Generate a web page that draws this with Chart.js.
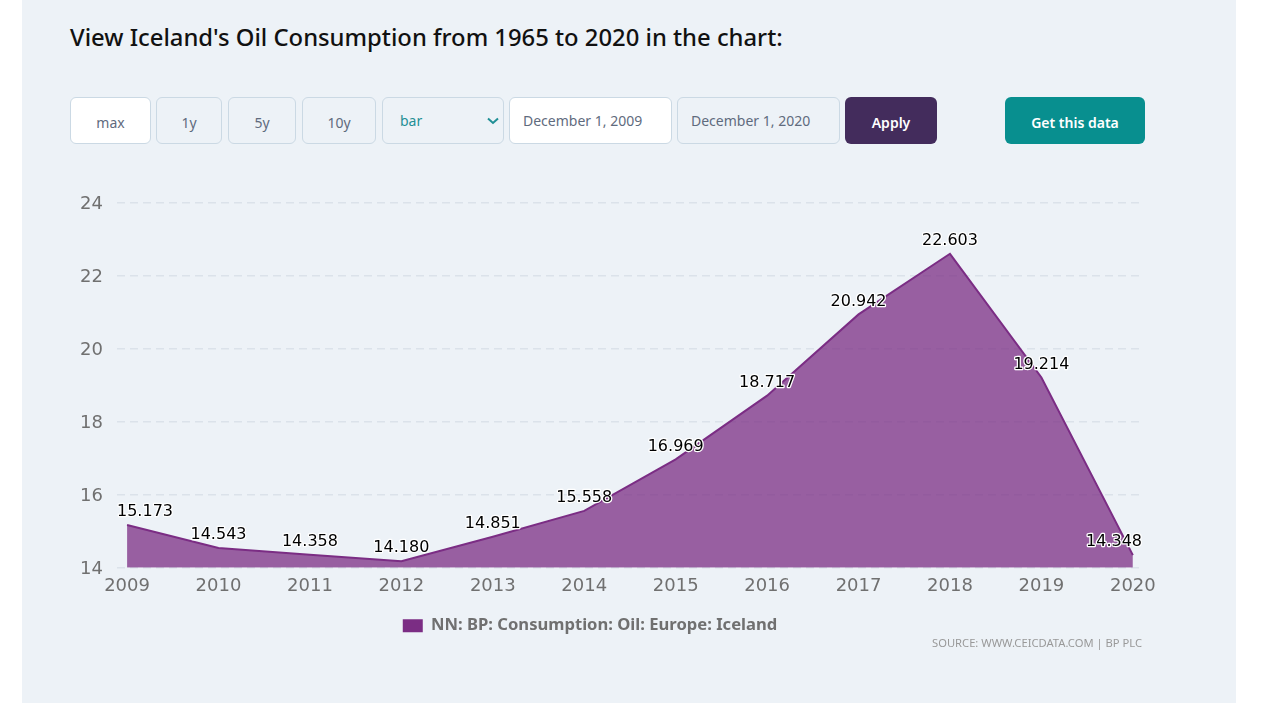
<!DOCTYPE html>
<html>
<head>
<meta charset="utf-8">
<title>Iceland Oil Consumption</title>
<script src="https://cdn.jsdelivr.net/npm/chart.js@4/dist/chart.umd.min.js"></script>
<style>
  html, body { margin: 0; padding: 0; background: #fff; height: 703px; overflow: hidden; }
  body { font-family: "Noto Sans", sans-serif; }
  #panel { position: absolute; left: 22px; top: 0; width: 1214px; height: 703px; background: #edf2f7; }
  h1 { position: absolute; left: 70px; top: 20px; margin: 0; font-size: 23.8px; line-height: 34px; font-weight: 500; color: #111; white-space: nowrap; }
  .ctl { position: absolute; top: 97px; height: 47px; box-sizing: border-box; border: 1px solid #cbd9e4; border-radius: 6px;
         font-size: 14px; color: #5f6b7e; display: flex; align-items: center; justify-content: center; padding-top: 4px; }
  .white { background: #fff; }
  .date { padding: 0 0 0 13px; justify-content: flex-start; }
  .solid { border: none; color: #fff; font-weight: 600; }
  #chartWrap { position: absolute; left: 38px; top: 178px; width: 1122px; height: 466px; }
  #source { position: absolute; right: 120px; top: 635px; font-size: 11.2px; color: #999; white-space: nowrap; }
</style>
</head>
<body>
<div id="panel"></div>
<h1>View Iceland's Oil Consumption from 1965 to 2020 in the chart:</h1>

<div class="ctl white" style="left:70px;width:81px">max</div>
<div class="ctl" style="left:156px;width:66px">1y</div>
<div class="ctl" style="left:228px;width:68px">5y</div>
<div class="ctl" style="left:302px;width:74px">10y</div>
<div class="ctl" style="left:382px;width:122px;justify-content:flex-start;padding:0 0 0 17px;color:#1f8f95">bar
  <svg width="12" height="8" style="position:absolute;left:104px;top:19px"><path d="M1 1.5 L6 6 L11 1.5" fill="none" stroke="#1f8f95" stroke-width="2"/></svg>
</div>
<div class="ctl white date" style="left:509px;width:163px">December 1, 2009</div>
<div class="ctl date" style="left:677px;width:163px">December 1, 2020</div>
<div class="ctl solid" style="left:845px;width:92px;background:#432c5c">Apply</div>
<div class="ctl solid" style="left:1005px;width:140px;background:#088f8f">Get this data</div>

<div id="chartWrap"><canvas id="chartOil"></canvas></div>
<div id="source">SOURCE: WWW.CEICDATA.COM | BP PLC</div>

<script>
const years = [2009, 2010, 2011, 2012, 2013, 2014, 2015, 2016, 2017, 2018, 2019, 2020];
const oilValues = [15.173, 14.543, 14.358, 14.180, 14.851, 15.558, 16.969, 18.717, 20.942, 22.603, 19.214, 14.348];
const yTicks = [14, 16, 18, 20, 22, 24];
const seriesName = "NN: BP: Consumption: Oil: Europe: Iceland";

// value labels with a thin white halo, kept inside the plot area
const valueLabels = {
  id: "valueLabels",
  afterDatasetsDraw(chart) {
    const ctx = chart.ctx;
    const area = chart.chartArea;
    const points = chart.getDatasetMeta(0).data;
    ctx.save();
    ctx.font = '16px "DejaVu Sans"';
    ctx.textAlign = "center";
    ctx.textBaseline = "middle";
    ctx.lineJoin = "round";
    points.forEach((p, i) => {
      const txt = oilValues[i].toFixed(3);
      const half = ctx.measureText(txt).width / 2;
      const x = Math.min(Math.max(p.x, area.left + half), area.right - half);
      ctx.lineWidth = 2.5;
      ctx.strokeStyle = "#fff";
      ctx.strokeText(txt, x, p.y - 13);
      ctx.fillStyle = "#000";
      ctx.fillText(txt, x, p.y - 13);
    });
    ctx.restore();
  }
};

const ctx = document.getElementById("chartOil").getContext("2d");
new Chart(ctx, {
  type: "line",
  data: {
    datasets: [{
      label: seriesName,
      data: years.map((y, i) => ({ x: y, y: oilValues[i] })),
      borderColor: "#7b2d84",
      borderWidth: 2,
      backgroundColor: "rgba(123,45,132,0.75)",
      fill: "start",
      pointRadius: 0,
      tension: 0
    }]
  },
  options: {
    responsive: true,
    maintainAspectRatio: false,
    animation: false,
    layout: { padding: { top: 10, right: 18, bottom: 0, left: 0 } },
    plugins: {
      tooltip: { enabled: false },
      legend: {
        position: "bottom",
        labels: {
          boxWidth: 20,
          boxHeight: 13,
          padding: 5,
          color: "#707070",
          font: { family: '"Noto Sans"', size: 16.6, weight: "bold" },
          generateLabels: () => [{
            text: seriesName,
            fillStyle: "#7b2d84",
            strokeStyle: "#7b2d84",
            lineWidth: 0,
            fontColor: "#707070"
          }]
        }
      }
    },
    scales: {
      x: {
        type: "linear",
        min: 2008.89,
        max: 2020.1,
        afterBuildTicks: (scale) => { scale.ticks = years.map(v => ({ value: v })); },
        afterFit: (scale) => { scale.height += 15; },
        grid: { display: false },
        border: { display: false },
        ticks: {
          autoSkip: false,
          maxRotation: 0,
          padding: 0,
          color: "#707070",
          font: { family: '"DejaVu Sans"', size: 18 },
          callback: (v) => String(v)
        }
      },
      y: {
        min: 14,
        max: 24,
        afterBuildTicks: (scale) => { scale.ticks = yTicks.map(v => ({ value: v })); },
        afterFit: (scale) => { scale.width = 79; },
        border: { display: false, dash: [8, 5] },
        grid: { color: "#dbe2ea", lineWidth: 1.5, drawTicks: false },
        ticks: {
          padding: 14,
          labelOffset: 2,
          color: "#707070",
          font: { family: '"DejaVu Sans"', size: 18 }
        }
      }
    }
  },
  plugins: [valueLabels]
});
</script>
</body>
</html>
